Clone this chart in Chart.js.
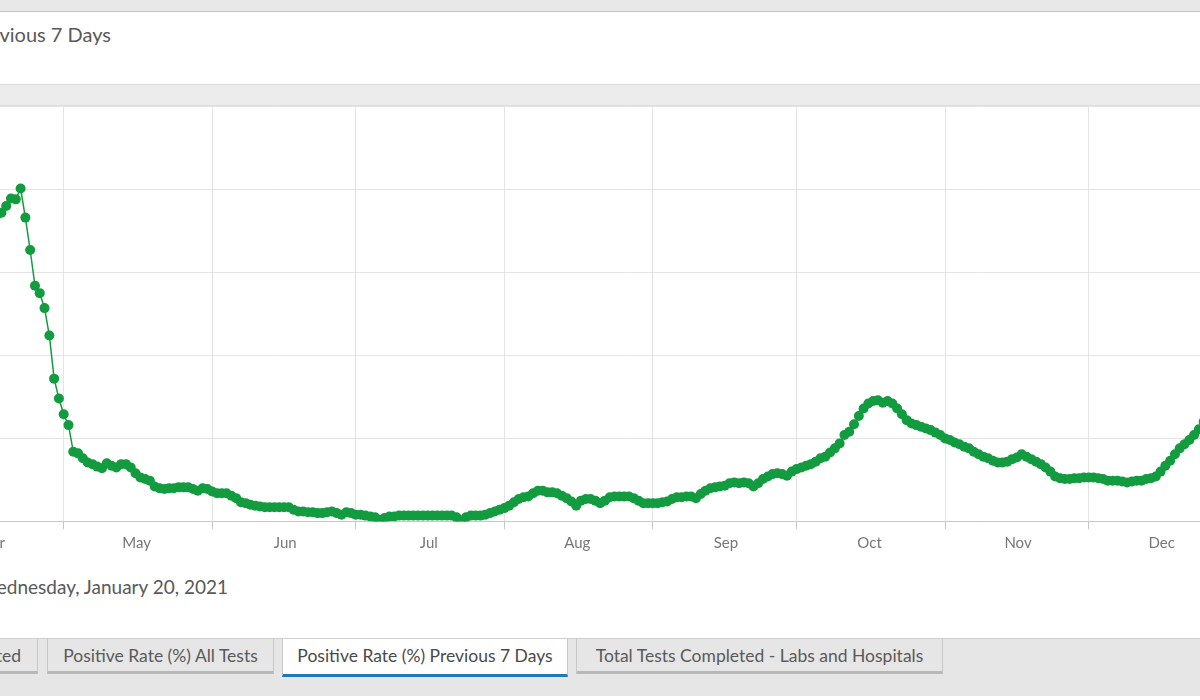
<!DOCTYPE html>
<html>
<head>
<meta charset="utf-8">
<script src="https://cdn.jsdelivr.net/npm/chart.js@4.4.1/dist/chart.umd.min.js"></script>
<style>
  html, body { margin:0; padding:0; width:1200px; height:700px; overflow:hidden; background:#ffffff; font-family: Lato, "Open Sans", sans-serif; }
  .abs { position:absolute; }
  #topStrip { left:0; top:0; width:1200px; height:11px; background:#e8e8e8; border-bottom:1px solid #c4c4c4; }
  #titlePanel { left:0; top:12px; width:1200px; height:72px; background:#ffffff; border-bottom:1px solid #dadada; }
  #title { right:calc(100% - 111px); top:22px; white-space:nowrap; font-size:20px; color:#595959; }
  #band { left:0; top:85px; width:1200px; height:20px; background:#ececec; border-bottom:1px solid #dcdcdc; }
  #chartWrap { left:-129.7px; top:94.6px; width:1468.05px; height:466.4px; }
  #updated { right:calc(100% - 228px); top:575px; white-space:nowrap; font-size:19px; color:#595959; }
  #tabBar { left:0; top:638px; width:1200px; height:57px; background:#e6e6e6; border-top:1px solid #cfcfcf; }
  .tab { position:absolute; top:639px; height:35px; box-sizing:border-box; background:#e6e6e6;
         border:1px solid #c8c8c8; border-top:none; border-bottom:3px solid #b8b8b8;
         font-size:17.5px; color:#5a5a5a; white-space:nowrap; line-height:34px; text-align:center; }
  .tab.active { background:#ffffff; border-bottom:3px solid #1f78b8; color:#4a4a4a; height:38px; }
</style>
</head>
<body>
<div id="topStrip" class="abs"></div>
<div id="titlePanel" class="abs"></div>
<div id="title" class="abs">Positive Rate (%) Previous 7 Days</div>
<div id="band" class="abs"></div>
<div id="tabBar" class="abs"></div>
<div class="tab" style="left:-200px; width:238px; text-align:right; padding-right:16px;">Tests Completed</div>
<div class="tab" style="left:47px; width:227px;">Positive Rate (%) All Tests</div>
<div class="tab active" style="left:282px; width:286px;">Positive Rate (%) Previous 7 Days</div>
<div class="tab" style="left:576px; width:367px;">Total Tests Completed - Labs and Hospitals</div>
<div id="updated" class="abs">Wednesday, January 20, 2021</div>
<div id="chartWrap" class="abs"><canvas id="c"></canvas></div>
<script>
// Day-of-year index for 2020 (Jan 1 = 0); first value is April 16, 2020
const startDay = 106;
// Daily positive rate (%), previous 7 days
const values = [
  3.63, 3.69, 3.72, 3.80, 3.89, 3.88, 4.01, 3.66, 3.27, 2.84,
  2.75, 2.57, 2.24, 1.72, 1.48, 1.29, 1.16, 0.84, 0.82, 0.76,
  0.71, 0.69, 0.66, 0.64, 0.70, 0.67, 0.65, 0.69, 0.69, 0.65,
  0.58, 0.53, 0.51, 0.49, 0.42, 0.40, 0.39, 0.40, 0.40, 0.41,
  0.41, 0.41, 0.39, 0.37, 0.40, 0.39, 0.36, 0.34, 0.34, 0.34,
  0.31, 0.28, 0.23, 0.22, 0.20, 0.19, 0.18, 0.17, 0.17, 0.17,
  0.17, 0.17, 0.17, 0.14, 0.12, 0.12, 0.11, 0.11, 0.10, 0.10,
  0.11, 0.12, 0.10, 0.08, 0.11, 0.10, 0.08, 0.08, 0.07, 0.06,
  0.05, 0.02, 0.04, 0.06, 0.06, 0.07, 0.07, 0.07, 0.07, 0.07,
  0.07, 0.07, 0.07, 0.07, 0.07, 0.07, 0.07, 0.05, 0.01, 0.05,
  0.07, 0.07, 0.07, 0.08, 0.10, 0.12, 0.14, 0.16, 0.19, 0.23,
  0.27, 0.29, 0.30, 0.34, 0.37, 0.37, 0.35, 0.35, 0.34, 0.31,
  0.28, 0.24, 0.19, 0.25, 0.27, 0.27, 0.25, 0.22, 0.25, 0.29,
  0.30, 0.30, 0.30, 0.30, 0.28, 0.25, 0.22, 0.22, 0.22, 0.22,
  0.23, 0.24, 0.27, 0.29, 0.29, 0.30, 0.30, 0.28, 0.33, 0.37,
  0.40, 0.41, 0.42, 0.43, 0.46, 0.47, 0.46, 0.47, 0.46, 0.42,
  0.46, 0.51, 0.54, 0.57, 0.58, 0.57, 0.55, 0.60, 0.63, 0.65,
  0.67, 0.69, 0.72, 0.76, 0.78, 0.83, 0.88, 0.94, 1.04, 1.08,
  1.17, 1.27, 1.36, 1.42, 1.45, 1.46, 1.43, 1.45, 1.42, 1.36,
  1.29, 1.22, 1.18, 1.16, 1.14, 1.12, 1.10, 1.07, 1.04, 1.00,
  0.98, 0.95, 0.93, 0.90, 0.88, 0.84, 0.81, 0.78, 0.76, 0.73,
  0.71, 0.71, 0.72, 0.75, 0.77, 0.81, 0.78, 0.75, 0.72, 0.69,
  0.65, 0.60, 0.54, 0.52, 0.51, 0.51, 0.52, 0.52, 0.53, 0.53,
  0.53, 0.52, 0.51, 0.49, 0.49, 0.49, 0.48, 0.47, 0.48, 0.49,
  0.49, 0.51, 0.52, 0.54, 0.60, 0.67, 0.73, 0.81, 0.88, 0.93,
  0.98, 1.04, 1.11, 1.20, 1.30, 1.39
];
// Month boundaries (day-of-year index) and their labels
const monthStarts = [91, 121, 152, 182, 213, 244, 274, 305, 335, 366];
const monthLabels = ['Apr', 'May', 'Jun', 'Jul', 'Aug', 'Sep', 'Oct', 'Nov', 'Dec', 'Jan'];
const yTicks = [0, 1, 2, 3, 4, 5];

const points = values.map((v, i) => ({ x: startDay + i, y: v }));
const green = '#129b3f';

new Chart(document.getElementById('c'), {
  type: 'line',
  data: {
    datasets: [{
      data: points,
      borderColor: green,
      borderWidth: 1.5,
      backgroundColor: green,
      pointBackgroundColor: green,
      pointBorderWidth: 0,
      pointRadius: 5,
      tension: 0,
      fill: false
    }]
  },
  options: {
    responsive: true,
    maintainAspectRatio: false,
    animation: false,
    layout: { padding: { top: 10, right: 0, bottom: 0, left: 0 } },
    plugins: { legend: { display: false }, tooltip: { enabled: false } },
    scales: {
      x: {
        type: 'linear',
        min: 91,
        max: 386,
        afterBuildTicks: s => { s.ticks = monthStarts.map(v => ({ value: v })); },
        afterFit: s => { s.height = 40; },
        ticks: {
          autoSkip: false,
          maxRotation: 0,
          labelOffset: 73,
          padding: 5,
          color: '#777777',
          font: { family: 'Lato', size: 15 },
          callback: v => monthLabels[monthStarts.indexOf(v)]
        },
        grid: { color: '#e4e4e4', tickColor: '#c8c8c8', tickLength: 8 },
        border: { color: '#c8c8c8' }
      },
      y: {
        min: 0,
        max: 5,
        afterBuildTicks: s => { s.ticks = yTicks.map(v => ({ value: v })); },
        afterFit: s => { s.width = 50; },
        ticks: { color: '#777777', font: { family: 'Lato', size: 14 } },
        grid: { color: '#e4e4e4' },
        border: { display: false }
      }
    }
  }
});
</script>
</body>
</html>
